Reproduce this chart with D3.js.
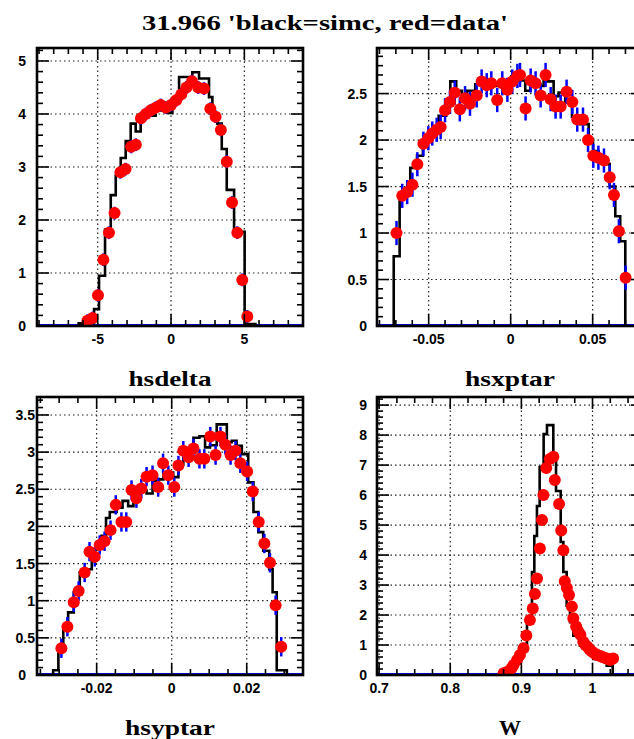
<!DOCTYPE html>
<html>
<head>
<meta charset="utf-8">
<script src="https://cdn.jsdelivr.net/npm/d3@7"></script>
<style>
    body { margin: 0; background: #fff; }
    svg { display: block; }
    .tick-label { font-family: "Liberation Sans", Arial, sans-serif; font-weight: bold; font-size: 14px; fill: #000; }
    .axis-title { font-family: "Liberation Serif", "Times New Roman", serif; font-weight: bold; font-size: 22px; fill: #000; }
    .main-title { font-family: "Liberation Serif", "Times New Roman", serif; font-weight: bold; font-size: 21px; fill: #000; }
</style>
</head>
<body>
<div id="chart"></div>
<script>
// ---- hsdelta ----
const deltaDataX = [-5.70, -5.35, -4.98, -4.61, -4.23, -3.85, -3.45, -3.10, -2.72, -2.40, -2.05, -1.72, -1.38, -1.04, -0.70, -0.36, 0.00, 0.35, 0.70, 1.05, 1.43, 1.85, 2.25, 2.68, 3.04, 3.40, 3.80, 4.16, 4.52, 4.86, 5.20];
const deltaDataY = [0.10, 0.15, 0.58, 1.25, 1.76, 2.13, 2.90, 2.96, 3.38, 3.42, 3.92, 4.00, 4.07, 4.12, 4.17, 4.12, 4.17, 4.26, 4.37, 4.50, 4.62, 4.50, 4.48, 4.10, 3.95, 3.70, 3.10, 2.33, 1.76, 0.87, 0.18];
const deltaSimEdges = [-6.30, -5.25, -4.91, -4.50, -4.11, -3.77, -3.43, -3.09, -2.75, -2.41, -2.07, -1.61, -1.05, -0.70, -0.25, 0.09, 0.55, 1.00, 1.45, 1.91, 2.59, 2.82, 3.16, 3.46, 3.80, 4.30, 5.02, 5.75];
const deltaSimY = [0.03, 0.30, 0.93, 1.80, 2.45, 2.82, 3.15, 3.47, 3.80, 3.65, 3.98, 3.95, 4.05, 4.05, 4.00, 4.27, 4.68, 4.68, 4.77, 4.65, 4.30, 3.98, 3.80, 3.32, 2.55, 1.76, 0.02];
const deltaErr = 0.12;
const deltaXTicks = [-5, 0, 5];
const deltaYTicks = [0, 1, 2, 3, 4, 5];

// ---- hsxptar ----
const xptarDataX = [-0.0696, -0.0661, -0.0631, -0.0599, -0.0569, -0.0532, -0.0502, -0.0478, -0.0451, -0.0427, -0.0400, -0.0370, -0.0341, -0.0310, -0.0278, -0.0248, -0.0207, -0.0177, -0.0146, -0.0118, -0.0082, -0.0051, -0.0020, 0.0010, 0.0041, 0.0057, 0.0091, 0.0122, 0.0152, 0.0183, 0.0213, 0.0244, 0.0274, 0.0305, 0.0341, 0.0376, 0.0406, 0.0441, 0.0472, 0.0504, 0.0535, 0.0569, 0.0604, 0.0630, 0.0660, 0.0701];
const xptarDataY = [1.00, 1.40, 1.44, 1.52, 1.74, 1.96, 2.02, 2.07, 2.11, 2.14, 2.32, 2.41, 2.51, 2.33, 2.45, 2.39, 2.48, 2.63, 2.59, 2.61, 2.43, 2.61, 2.54, 2.63, 2.69, 2.70, 2.34, 2.64, 2.61, 2.48, 2.70, 2.44, 2.36, 2.36, 2.52, 2.41, 2.22, 2.22, 2.00, 1.83, 1.81, 1.78, 1.60, 1.41, 1.02, 0.52];
const xptarSimEdges = [-0.0713, -0.0677, -0.0643, -0.0612, -0.0571, -0.0535, -0.0504, -0.0474, -0.0439, -0.0393, -0.0368, -0.0332, -0.0297, -0.0266, -0.0216, -0.0185, -0.0155, -0.0114, -0.0084, -0.0043, -0.0012, 0.0018, 0.0049, 0.0089, 0.0120, 0.0150, 0.0201, 0.0262, 0.0293, 0.0333, 0.0374, 0.0424, 0.0476, 0.0502, 0.0537, 0.0567, 0.0604, 0.0638, 0.0668, 0.0699];
const xptarSimY = [0.74, 1.38, 1.44, 1.69, 1.82, 1.96, 2.03, 2.09, 2.25, 2.42, 2.62, 2.52, 2.46, 2.52, 2.59, 2.62, 2.55, 2.59, 2.57, 2.62, 2.60, 2.68, 2.63, 2.52, 2.62, 2.57, 2.62, 2.46, 2.50, 2.39, 2.24, 2.16, 2.00, 1.87, 1.80, 1.73, 1.49, 1.17, 0.90];
const xptarErr = 0.13;
const xptarXTicks = [-0.05, 0, 0.05];
const xptarYTicks = [0, 0.5, 1, 1.5, 2, 2.5];

// ---- hsyptar ----
const yptarDataX = [-0.0294, -0.0278, -0.0261, -0.0248, -0.0232, -0.0219, -0.0205, -0.0192, -0.0179, -0.0163, -0.0149, -0.0134, -0.0121, -0.0107, -0.0094, -0.0081, -0.0067, -0.0051, -0.0036, -0.0023, -0.0009, 0.0007, 0.0018, 0.0031, 0.0045, 0.0058, 0.0074, 0.0087, 0.0103, 0.0117, 0.0130, 0.0143, 0.0157, 0.0170, 0.0183, 0.0201, 0.0216, 0.0232, 0.0247, 0.0262, 0.0277, 0.0292];
const yptarDataY = [0.36, 0.65, 0.98, 1.13, 1.38, 1.66, 1.59, 1.75, 1.80, 1.95, 2.29, 2.06, 2.06, 2.49, 2.38, 2.51, 2.67, 2.69, 2.53, 2.85, 2.69, 2.53, 2.82, 3.02, 2.93, 3.05, 2.91, 2.91, 3.21, 2.96, 3.21, 3.10, 2.96, 3.02, 2.85, 2.74, 2.47, 2.06, 1.77, 1.51, 0.94, 0.38];
const yptarSimEdges = [-0.0316, -0.0302, -0.0289, -0.0276, -0.0261, -0.0245, -0.0231, -0.0213, -0.0200, -0.0187, -0.0175, -0.0165, -0.0147, -0.0131, -0.0116, -0.0102, -0.0085, -0.0067, -0.0051, -0.0036, -0.0022, -0.0009, 0.0004, 0.0018, 0.0031, 0.0044, 0.0058, 0.0074, 0.0089, 0.0102, 0.0120, 0.0147, 0.0160, 0.0173, 0.0187, 0.0204, 0.0218, 0.0231, 0.0244, 0.0260, 0.0269, 0.0280, 0.0307];
const yptarSimY = [0.05, 0.31, 0.60, 0.83, 1.10, 1.37, 1.41, 1.68, 1.72, 1.86, 2.10, 2.18, 2.24, 2.33, 2.26, 2.40, 2.47, 2.43, 2.60, 2.62, 2.71, 2.71, 2.65, 2.82, 2.91, 2.98, 3.18, 3.20, 3.05, 3.08, 3.36, 3.12, 3.14, 3.07, 2.96, 2.58, 2.18, 1.91, 1.66, 1.41, 1.10, 0.05];
const yptarErr = 0.13;
const yptarXTicks = [-0.02, 0, 0.02];
const yptarYTicks = [0, 0.5, 1, 1.5, 2, 2.5, 3, 3.5];

// ---- W ----
const wDataX = [0.875, 0.879, 0.882, 0.886, 0.889, 0.894, 0.898, 0.903, 0.907, 0.912, 0.916, 0.919, 0.922, 0.926, 0.929, 0.931, 0.935, 0.940, 0.945, 0.947, 0.953, 0.956, 0.959, 0.961, 0.964, 0.967, 0.971, 0.973, 0.977, 0.980, 0.983, 0.987, 0.990, 0.993, 0.996, 0.999, 1.003, 1.006, 1.010, 1.013, 1.016, 1.019, 1.022, 1.025, 1.029];
const wDataY = [0.06, 0.09, 0.12, 0.22, 0.33, 0.50, 0.67, 0.89, 1.32, 1.83, 2.22, 2.70, 3.22, 4.22, 5.17, 6.00, 6.90, 7.20, 7.28, 6.50, 5.70, 4.82, 4.16, 3.13, 2.90, 2.67, 2.28, 1.89, 1.62, 1.45, 1.34, 1.11, 1.00, 0.94, 0.85, 0.78, 0.72, 0.67, 0.64, 0.61, 0.58, 0.56, 0.53, 0.50, 0.55];
const wSimEdges = [0.8727, 0.8844, 0.8938, 0.9008, 0.9079, 0.9149, 0.9182, 0.9219, 0.9257, 0.9313, 0.9360, 0.9449, 0.9487, 0.9553, 0.9590, 0.9637, 0.9684, 0.9730, 0.9824, 0.9918, 1.0011, 1.0200, 1.0284];
const wSimY = [0.10, 0.25, 0.55, 1.00, 1.90, 3.40, 4.60, 5.60, 6.90, 8.00, 8.30, 7.28, 6.10, 4.40, 3.40, 2.28, 1.73, 1.28, 0.94, 0.72, 0.50, 0.28];
const wErr = 0.1;
const wXTicks = [0.7, 0.8, 0.9, 1];
const wYTicks = [0, 1, 2, 3, 4, 5, 6, 7, 8, 9];

const width = 634, height = 739;

const panels = [
    { id: "delta", frame: { left: 37, top: 48, right: 303, bottom: 326 },
      xDomain: [-9.14, 9.0], yDomain: [0, 5.245],
      xTicks: deltaXTicks, xMinor: 1, yTicks: deltaYTicks, yMinor: 0.2,
      dataX: deltaDataX, dataY: deltaDataY, err: deltaErr,
      simEdges: deltaSimEdges, simY: deltaSimY,
      title: "hsdelta", titleLen: 83, yLabelGap: 11, zeroShift: 0 },
    { id: "xptar", frame: { left: 377, top: 48, right: 643, bottom: 326 },
      xDomain: [-0.0815, 0.0807], yDomain: [0, 2.99],
      xTicks: xptarXTicks, xMinor: 0.01, yTicks: xptarYTicks, yMinor: 0.1,
      dataX: xptarDataX, dataY: xptarDataY, err: xptarErr,
      simEdges: xptarSimEdges, simY: xptarSimY,
      title: "hsxptar", titleLen: 90, yLabelGap: 10, zeroShift: 0 },
    { id: "yptar", frame: { left: 37, top: 397, right: 303, bottom: 675 },
      xDomain: [-0.0359, 0.0350], yDomain: [0, 3.742],
      xTicks: yptarXTicks, xMinor: 0.005, yTicks: yptarYTicks, yMinor: 0.1,
      dataX: yptarDataX, dataY: yptarDataY, err: yptarErr,
      simEdges: yptarSimEdges, simY: yptarSimY,
      title: "hsyptar", titleLen: 90, yLabelGap: 2, zeroShift: 9 },
    { id: "w", frame: { left: 377, top: 397, right: 643, bottom: 675 },
      xDomain: [0.697, 1.071], yDomain: [0, 9.27],
      xTicks: wXTicks, xMinor: 0.025, yTicks: wYTicks, yMinor: 0.2,
      dataX: wDataX, dataY: wDataY, err: wErr,
      simEdges: wSimEdges, simY: wSimY,
      title: "W", titleLen: 22, yLabelGap: 10, zeroShift: 0 }
];

const svg = d3.select("#chart")
    .append("svg")
    .attr("width", width)
    .attr("height", height);

svg.append("rect").attr("width", width).attr("height", height).attr("fill", "#fff");

// Titol general
svg.append("text")
    .attr("class", "main-title")
    .attr("x", 325)
    .attr("y", 30)
    .attr("text-anchor", "middle")
    .attr("textLength", 366)
    .attr("lengthAdjust", "spacingAndGlyphs")
    .text("31.966 'black=simc, red=data'");

// Valors de les marques secundaries (entre el domini)
function minorValues(domain, step, majors) {
    const start = Math.ceil(domain[0] / step - 1e-6);
    const end = Math.floor(domain[1] / step + 1e-6);
    const out = [];
    for (let i = start; i <= end; i++) {
        const v = i * step;
        if (!majors.some(m => Math.abs(m - v) < step * 0.01)) out.push(v);
    }
    return out;
}

function drawPanel(p) {
    const f = p.frame;
    const x = d3.scaleLinear().domain(p.xDomain).range([f.left, f.right]);
    const y = d3.scaleLinear().domain(p.yDomain).range([f.bottom, f.top]);
    const g = svg.append("g").attr("class", "panel-" + p.id);

    g.append("clipPath").attr("id", "clip-" + p.id)
        .append("rect")
        .attr("x", f.left).attr("y", f.top)
        .attr("width", f.right - f.left).attr("height", f.bottom - f.top);

    // Graella puntejada
    const grid = g.append("g").attr("stroke", "#222").attr("stroke-width", 1.2)
        .attr("stroke-dasharray", "1.5,3");
    p.xTicks.forEach(v => {
        grid.append("line").attr("x1", x(v)).attr("x2", x(v))
            .attr("y1", f.top).attr("y2", f.bottom);
    });
    p.yTicks.filter(v => v > 0).forEach(v => {
        grid.append("line").attr("x1", f.left).attr("x2", f.right)
            .attr("y1", y(v)).attr("y2", y(v));
    });

    const plot = g.append("g").attr("clip-path", `url(#clip-${p.id})`);

    // Linia blava a zero (histograma de dades buit)
    plot.append("line")
        .attr("x1", f.left).attr("x2", f.right)
        .attr("y1", y(0) - 1).attr("y2", y(0) - 1)
        .attr("stroke", "#0000ff").attr("stroke-width", 2);

    // Histograma simc (negre, en esglaons)
    const pts = [[p.simEdges[0], 0]];
    p.simY.forEach((v, i) => pts.push([p.simEdges[i], v]));
    pts.push([p.simEdges[p.simEdges.length - 1], p.simY[p.simY.length - 1]]);
    pts.push([p.simEdges[p.simEdges.length - 1], 0]);
    const line = d3.line()
        .x(d => x(d[0]))
        .y(d => y(d[1]) - 1)
        .curve(d3.curveStepAfter);
    plot.append("path")
        .attr("d", line(pts))
        .attr("fill", "none")
        .attr("stroke", "#000")
        .attr("stroke-width", 2.6);

    // Barres d'error (blau)
    const data = p.dataX.map((xv, i) => ({ x: xv, y: p.dataY[i] }));
    plot.selectAll("line.err").data(data).enter()
        .append("line").attr("class", "err")
        .attr("x1", d => x(d.x)).attr("x2", d => x(d.x))
        .attr("y1", d => y(d.y + p.err)).attr("y2", d => y(Math.max(0, d.y - p.err)))
        .attr("stroke", "#0000ff").attr("stroke-width", 2.5);

    // Punts de dades (vermell)
    plot.selectAll("circle").data(data).enter()
        .append("circle")
        .attr("cx", d => x(d.x))
        .attr("cy", d => y(d.y))
        .attr("r", 6)
        .attr("fill", "#ff0000");

    // Marques (cap endins, als quatre costats)
    const ticks = g.append("g").attr("stroke", "#000").attr("stroke-width", 1.6);
    const major = 12, minor = 6;
    p.xTicks.forEach(v => {
        ticks.append("line").attr("x1", x(v)).attr("x2", x(v)).attr("y1", f.bottom).attr("y2", f.bottom - major);
        ticks.append("line").attr("x1", x(v)).attr("x2", x(v)).attr("y1", f.top).attr("y2", f.top + major);
    });
    minorValues(p.xDomain, p.xMinor, p.xTicks).forEach(v => {
        ticks.append("line").attr("x1", x(v)).attr("x2", x(v)).attr("y1", f.bottom).attr("y2", f.bottom - minor);
        ticks.append("line").attr("x1", x(v)).attr("x2", x(v)).attr("y1", f.top).attr("y2", f.top + minor);
    });
    p.yTicks.forEach(v => {
        ticks.append("line").attr("x1", f.left).attr("x2", f.left + major).attr("y1", y(v)).attr("y2", y(v));
        ticks.append("line").attr("x1", f.right).attr("x2", f.right - major).attr("y1", y(v)).attr("y2", y(v));
    });
    minorValues(p.yDomain, p.yMinor, p.yTicks).forEach(v => {
        ticks.append("line").attr("x1", f.left).attr("x2", f.left + minor).attr("y1", y(v)).attr("y2", y(v));
        ticks.append("line").attr("x1", f.right).attr("x2", f.right - minor).attr("y1", y(v)).attr("y2", y(v));
    });

    // Marc
    g.append("rect")
        .attr("x", f.left).attr("y", f.top)
        .attr("width", f.right - f.left).attr("height", f.bottom - f.top)
        .attr("fill", "none").attr("stroke", "#000").attr("stroke-width", 2.6);

    // Etiquetes de l'eix X
    g.selectAll("text.xl").data(p.xTicks).enter()
        .append("text").attr("class", "tick-label xl")
        .attr("x", d => x(d))
        .attr("y", f.bottom + 18)
        .attr("text-anchor", "middle")
        .text(d => String(d));

    // Etiquetes de l'eix Y
    g.selectAll("text.yl").data(p.yTicks).enter()
        .append("text").attr("class", "tick-label yl")
        .attr("x", d => f.left - p.yLabelGap - (d === 0 ? p.zeroShift : 0))
        .attr("y", d => y(d) + 5)
        .attr("text-anchor", "end")
        .text(d => String(d));

    // Titol de l'eix
    g.append("text")
        .attr("class", "axis-title")
        .attr("x", (f.left + f.right) / 2)
        .attr("y", f.bottom + 60)
        .attr("text-anchor", "middle")
        .attr("textLength", p.titleLen)
        .attr("lengthAdjust", "spacingAndGlyphs")
        .text(p.title);
}

panels.forEach(drawPanel);
</script>
</body>
</html>
